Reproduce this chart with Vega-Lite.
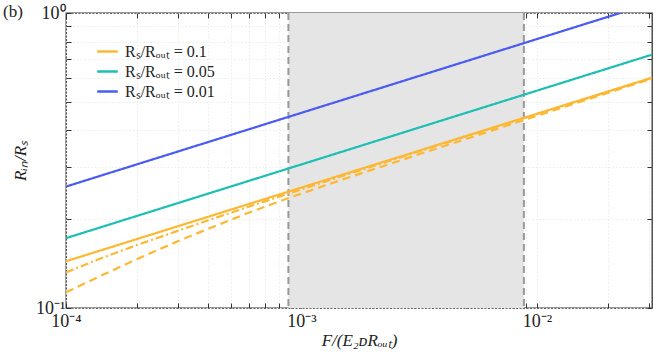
{
  "$schema": "https://vega.github.io/schema/vega-lite/v6.json",
  "autosize": "none",
  "width": 586,
  "height": 295,
  "padding": {"left": 66, "top": 13, "right": 2, "bottom": 45},
  "background": "white",
  "title": {"text": "(b)", "anchor": "start", "frame": "group", "orient": "top", "offset": 0, "baseline": "middle", "dx": -63, "dy": 25, "font": "Liberation Serif", "fontSize": 17, "fontWeight": "normal", "color": "#222"},
  "config": {
    "view": {"stroke": "#333", "strokeWidth": 1.3},
    "axis": {
      "domain": false,
      "labelFont": "Liberation Serif",
      "labelFontSize": 18,
      "labelColor": "#222",
      "titleFont": "Liberation Serif",
      "titleFontSize": 17,
      "titleFontStyle": "italic",
      "titleFontWeight": "normal",
      "titleColor": "#222",
      "tickColor": "#333",
      "tickSize": -5,
      "tickWidth": 1,
      "gridColor": "#e4e4e4",
      "gridDash": [1.5, 2],
      "gridWidth": 1,
      "labelFlush": false,
      "labelOverlap": false
    }
  },
  "datasets": {
    "shade": [{"lo": 0.00088, "hi": 0.0088}],
    "edges": [{"xe": 0.00088}, {"xe": 0.0088}],
    "curves": [
      {"x": 0.0001, "y": 0.258, "ratio": "0.01", "style": "solid", "series": "blue"},
      {"x": 0.0308, "y": 1.081, "ratio": "0.01", "style": "solid", "series": "blue"},
      {"x": 0.0001, "y": 0.1725, "ratio": "0.05", "style": "solid", "series": "teal"},
      {"x": 0.0308, "y": 0.7226, "ratio": "0.05", "style": "solid", "series": "teal"},
      {"x": 0.0001, "y": 0.144, "ratio": "0.1", "style": "solid", "series": "orange"},
      {"x": 0.0308, "y": 0.6033, "ratio": "0.1", "style": "solid", "series": "orange"},
      {"x": 0.0001, "y": 0.132, "ratio": "0.1", "style": "dashdot", "series": "orange-dd"},
      {"x": 0.00014, "y": 0.1472, "ratio": "0.1", "style": "dashdot", "series": "orange-dd"},
      {"x": 0.0002, "y": 0.1635, "ratio": "0.1", "style": "dashdot", "series": "orange-dd"},
      {"x": 0.0003, "y": 0.1829, "ratio": "0.1", "style": "dashdot", "series": "orange-dd"},
      {"x": 0.0004, "y": 0.1979, "ratio": "0.1", "style": "dashdot", "series": "orange-dd"},
      {"x": 0.0006, "y": 0.2209, "ratio": "0.1", "style": "dashdot", "series": "orange-dd"},
      {"x": 0.0009, "y": 0.2457, "ratio": "0.1", "style": "dashdot", "series": "orange-dd"},
      {"x": 0.0015, "y": 0.2806, "ratio": "0.1", "style": "dashdot", "series": "orange-dd"},
      {"x": 0.003, "y": 0.335, "ratio": "0.1", "style": "dashdot", "series": "orange-dd"},
      {"x": 0.006, "y": 0.3996, "ratio": "0.1", "style": "dashdot", "series": "orange-dd"},
      {"x": 0.01, "y": 0.4545, "ratio": "0.1", "style": "dashdot", "series": "orange-dd"},
      {"x": 0.02, "y": 0.541, "ratio": "0.1", "style": "dashdot", "series": "orange-dd"},
      {"x": 0.0308, "y": 0.603, "ratio": "0.1", "style": "dashdot", "series": "orange-dd"},
      {"x": 0.0001, "y": 0.113, "ratio": "0.1", "style": "dashed", "series": "orange-d"},
      {"x": 0.00014, "y": 0.1284, "ratio": "0.1", "style": "dashed", "series": "orange-d"},
      {"x": 0.0002, "y": 0.1464, "ratio": "0.1", "style": "dashed", "series": "orange-d"},
      {"x": 0.0003, "y": 0.1687, "ratio": "0.1", "style": "dashed", "series": "orange-d"},
      {"x": 0.0004, "y": 0.1853, "ratio": "0.1", "style": "dashed", "series": "orange-d"},
      {"x": 0.0006, "y": 0.2107, "ratio": "0.1", "style": "dashed", "series": "orange-d"},
      {"x": 0.0009, "y": 0.2374, "ratio": "0.1", "style": "dashed", "series": "orange-d"},
      {"x": 0.0015, "y": 0.2729, "ratio": "0.1", "style": "dashed", "series": "orange-d"},
      {"x": 0.003, "y": 0.3276, "ratio": "0.1", "style": "dashed", "series": "orange-d"},
      {"x": 0.006, "y": 0.3924, "ratio": "0.1", "style": "dashed", "series": "orange-d"},
      {"x": 0.01, "y": 0.4481, "ratio": "0.1", "style": "dashed", "series": "orange-d"},
      {"x": 0.02, "y": 0.5361, "ratio": "0.1", "style": "dashed", "series": "orange-d"},
      {"x": 0.0308, "y": 0.5991, "ratio": "0.1", "style": "dashed", "series": "orange-d"}
    ]
  },
  "resolve": {"axis": {"x": "independent", "y": "independent"}},
  "layer": [
    {
      "data": {"name": "shade"},
      "mark": {"type": "rect", "color": "#e5e5e5"},
      "encoding": {
        "x": {"field": "lo", "type": "quantitative",
          "scale": {"type": "log", "domain": [0.0001, 0.0308], "nice": false},
          "axis": {"orient": "top", "title": null, "labels": false, "grid": true, "zIndex": 1,
            "gridColor": "#ececec",
            "values": [0.0001,0.0002,0.0003,0.0004,0.0005,0.0006,0.0007,0.0008,0.0009,0.001,0.002,0.003,0.004,0.005,0.006,0.007,0.008,0.009,0.01,0.02,0.03]}},
        "x2": {"field": "hi"},
        "y": {"datum": 0.1, "type": "quantitative",
          "scale": {"type": "log", "domain": [0.1, 1], "nice": false},
          "axis": {"orient": "right", "title": null, "labels": false, "grid": true, "zIndex": 1,
            "gridColor": "#ececec",
            "values": [0.1,0.2,0.3,0.4,0.5,0.6,0.7,0.8,0.9,1]}},
        "y2": {"datum": 1}
      }
    },
    {
      "data": {"name": "edges"},
      "mark": {"type": "rule", "color": "#999999", "strokeWidth": 2, "strokeDash": [7, 4]},
      "encoding": {
        "x": {"field": "xe", "type": "quantitative", "axis": null}
      }
    },
    {
      "data": {"name": "curves"},
      "mark": {"type": "line", "strokeWidth": 2.2, "clip": true},
      "encoding": {
        "x": {"field": "x", "type": "quantitative",
          "axis": {"orient": "bottom", "title": "F/(E₂ᴅRₒᵤₜ)", "grid": false, "labelPadding": 9, "titlePadding": 2,
            "values": [0.0001,0.0002,0.0003,0.0004,0.0005,0.0006,0.0007,0.0008,0.0009,0.001,0.002,0.003,0.004,0.005,0.006,0.007,0.008,0.009,0.01,0.02,0.03],
            "labelExpr": "datum.value == 0.0001 ? '10⁻⁴' : datum.value == 0.001 ? '10⁻³' : datum.value == 0.01 ? '10⁻²' : ''"}},
        "y": {"field": "y", "type": "quantitative",
          "axis": {"orient": "left", "title": "Rᵢₙ/Rₛ", "grid": false, "labelPadding": 6, "titlePadding": 6,
            "values": [0.1,0.2,0.3,0.4,0.5,0.6,0.7,0.8,0.9,1],
            "labelExpr": "datum.value == 0.1 ? '10⁻¹' : datum.value == 1 ? '10⁰' : ''"}},
        "color": {"field": "ratio", "type": "nominal",
          "scale": {"domain": ["0.1", "0.05", "0.01"], "range": ["#FDB833", "#1DBEB4", "#4A5BF4"]},
          "legend": {"orient": "none", "legendX": 30, "legendY": 27, "title": null,
            "symbolType": "stroke", "symbolStrokeWidth": 2.5, "symbolSize": 420,
            "labelFont": "Liberation Serif", "labelFontSize": 16, "labelColor": "#222",
            "rowPadding": 0, "labelOffset": 6,
            "labelExpr": "'Rₛ/Rₒᵤₜ = ' + datum.label"}},
        "strokeDash": {"field": "style", "type": "nominal",
          "scale": {"domain": ["solid", "dashdot", "dashed"], "range": [[1, 0], [8, 3, 2, 3], [8, 5]]},
          "legend": null},
        "detail": {"field": "series"}
      }
    }
  ]
}
